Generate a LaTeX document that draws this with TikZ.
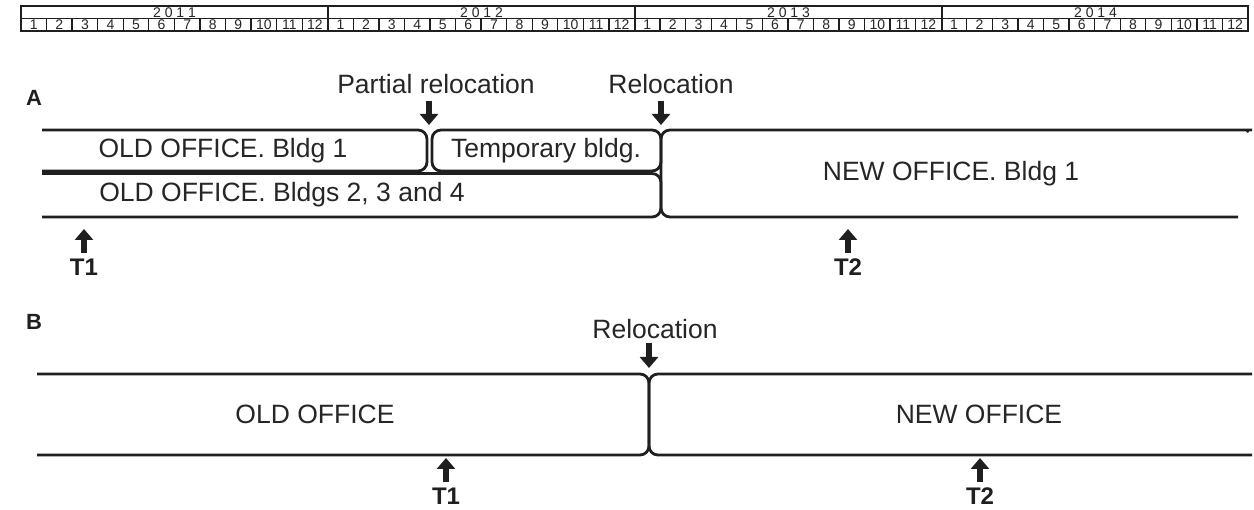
\documentclass[tikz,border=0pt]{standalone}
\usepackage{fontspec}
\setmainfont{Liberation Sans}
\usetikzlibrary{arrows.meta}
\begin{document}
\begin{tikzpicture}[x=1pt,y=-1pt,
  box/.style={line width=2.8pt, rounded corners=9pt, color=black!88},
  lbl/.style={font=\fontsize{26.5}{30}\selectfont, inner sep=0pt, text=black!85},
  tlbl/.style={font=\bfseries\fontsize{24}{26}\selectfont, inner sep=0pt, text=black!88},
  sec/.style={font=\bfseries\fontsize{22}{24}\selectfont, inner sep=0pt, text=black!88},
  fat/.style={line width=6.5pt, color=black!88, -{Triangle[width=18pt,length=11pt]}},
  hdr/.style={line width=1.3pt, color=black!88},
  yr/.style={font=\fontsize{14}{15}\selectfont, inner sep=0pt, text=black!85},
  mo/.style={font=\fontsize{14}{15}\selectfont, inner sep=0pt, text=black!85},
]
\useasboundingbox (0,0) rectangle (1254,510);
% ---------- header ----------
\draw[hdr] (21,6) rectangle (1248,31);
\draw[hdr] (21,18.5) -- (1248,18.5);
\foreach \k in {1,2,3} \draw[hdr] (21+307*\k,6) -- (21+307*\k,31);
\foreach \k in {1,...,47} \draw[hdr] (21+25.5625*\k,18.5) -- (21+25.5625*\k,31);
\node[yr] (y2011) at (174.5,12.5) {2 0 1 1};
\node[yr] (y2012) at (481.5,12.5) {2 0 1 2};
\node[yr] (y2013) at (788.5,12.5) {2 0 1 3};
\node[yr] (y2014) at (1095.5,12.5) {2 0 1 4};
\foreach \k in {1,...,48}{
  \pgfmathtruncatemacro{\mm}{mod(\k-1,12)+1}
  \node[mo] (m\k) at (21+25.5625*\k-12.78,25) {\mm};
}
% ---------- section A ----------
\node[sec] (A) at (34,98) {A};
\node[lbl] (prl) at (436,84) {Partial relocation};
\node[lbl] (rla) at (671,84) {Relocation};
\coordinate (pra) at (429,101);
\coordinate (prb) at (429,125);
\coordinate (rlaa) at (661,101);
\coordinate (rlab) at (661,125);
\draw[fat] (pra) -- (prb);
\draw[fat] (rlaa) -- (rlab);
% boxes
\draw[box] (42,130) -- (427,130) -- (427,171) -- (42,171);
\draw[box] (432,130) rectangle (661,171);
\draw[box] (42,173.5) -- (661,173.5) -- (661,217) -- (42,217);
\draw[box] (1238,217) -- (661,217) -- (661,130) -- (1243,130) arc[start angle=-90, end angle=-55, radius=10];
\node[lbl] (ob1) at (223,151) {OLD OFFICE. Bldg 1};
\node[lbl] (tmp) at (546,151) {Temporary bldg.};
\node[lbl] (ob2) at (282,195) {OLD OFFICE. Bldgs 2, 3 and 4};
\node[lbl] (nb1) at (951,174) {NEW OFFICE. Bldg 1};
% T markers A
\coordinate (t1aa) at (84,253);
\coordinate (t1ab) at (84,229);
\coordinate (t2aa) at (848,253);
\coordinate (t2ab) at (848,229);
\draw[fat] (t1aa) -- (t1ab);
\draw[fat] (t2aa) -- (t2ab);
\node[tlbl] (t1a) at (84,267) {T1};
\node[tlbl] (t2a) at (848,267) {T2};
% ---------- section B ----------
\node[sec] (B) at (34,322) {B};
\node[lbl] (rlb) at (655,329) {Relocation};
\coordinate (rlba) at (649,343);
\coordinate (rlbb) at (649,368);
\draw[fat] (rlba) -- (rlbb);
\draw[box] (37,374) -- (649,374) -- (649,455) -- (37,455);
\draw[box] (1252,374) -- (649,374) -- (649,455) -- (1252,455);
\node[lbl] (oo) at (315,414) {OLD OFFICE};
\node[lbl] (no) at (979,414) {NEW OFFICE};
\coordinate (t1ba) at (446,482);
\coordinate (t1bb) at (446,458);
\coordinate (t2ba) at (980,482);
\coordinate (t2bb) at (980,458);
\draw[fat] (t1ba) -- (t1bb);
\draw[fat] (t2ba) -- (t2bb);
\node[tlbl] (t1b) at (446,496) {T1};
\node[tlbl] (t2b) at (980,496) {T2};
\end{tikzpicture}
\end{document}
